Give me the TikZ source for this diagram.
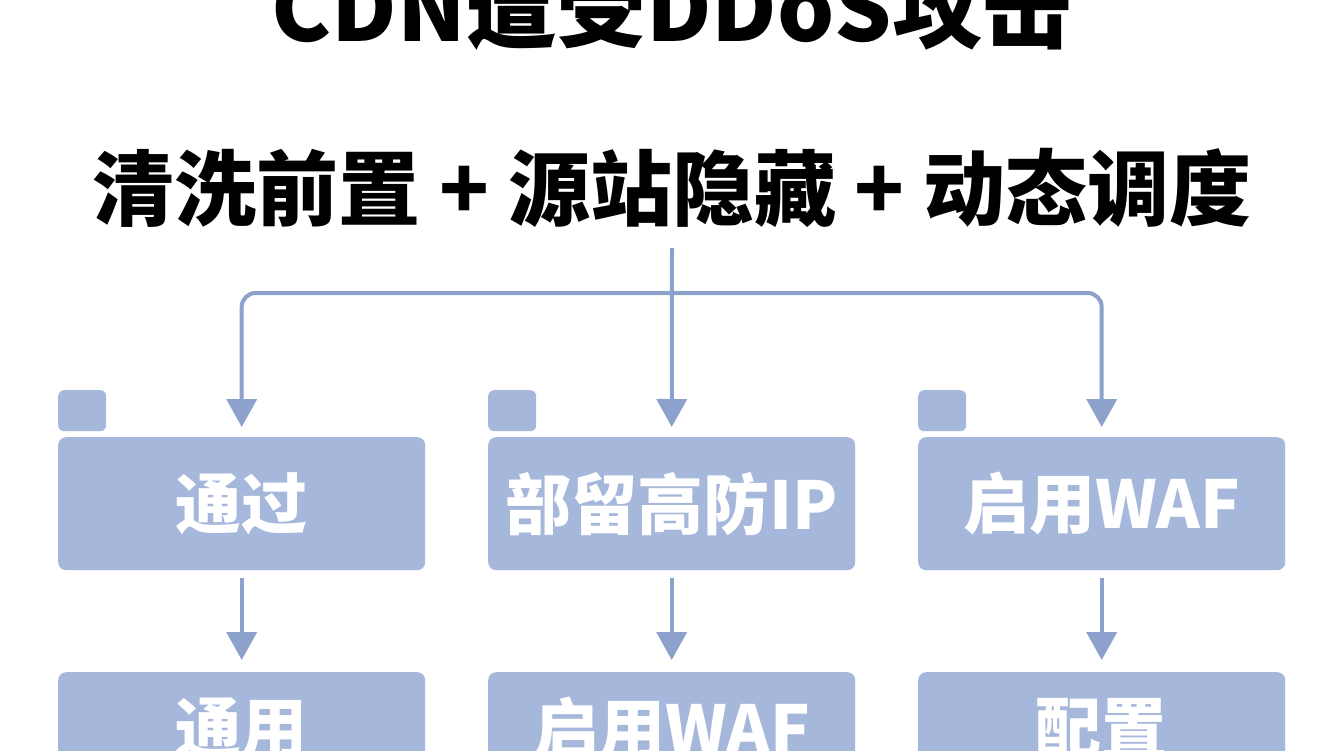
\documentclass[tikz,border=0pt]{standalone}
\usepackage{fontspec}
\setmainfont{Noto Sans CJK SC}
\usetikzlibrary{arrows.meta}
\definecolor{linec}{HTML}{8CA1CB}
\definecolor{boxc}{HTML}{A5B7DB}
\begin{document}
\begin{tikzpicture}[x=1pt,y=-1pt,
  conn/.style={draw=linec, line width=4pt, -{Triangle[width=30pt,length=28pt]}},
  card/.style={fill=boxc, rounded corners=8pt, minimum width=367pt, minimum height=133pt, inner sep=0pt, anchor=north west, text=white, font=\bfseries\fontsize{66}{66}\selectfont},
  lowcard/.style={card, minimum height=113pt},
  tabc/.style={fill=boxc, rounded corners=6pt, minimum width=48pt, minimum height=41pt, inner sep=0pt, anchor=north west},
  ttl/.style={anchor=base, font=\bfseries\fontsize{90}{90}\selectfont},
  subttl/.style={anchor=base, font=\bfseries\fontsize{82}{82}\selectfont}
]
\useasboundingbox (0,0) rectangle (1344,750);
\clip (0,0) rectangle (1344,750);
\fill[white] (0,0) rectangle (1344,750);

\node[ttl] (title) at (672,41) {CDN遭受DDoS攻击};
\node[subttl] (sub) at (672,219) {清洗前置 + 源站隐藏 + 动态调度};

\node[tabc] (t1) at (58,390) {};
\node[tabc] (t2) at (488,390) {};
\node[tabc] (t3) at (918,390) {};

\node[card] (b1) at (58,437) {通过};
\node[card] (b2) at (488,437) {部留高防IP};
\node[card] (b3) at (918,437) {启用WAF};

\node[lowcard] (c1) at (58,672) {通用};
\node[lowcard] (c2) at (488,672) {启用WAF};
\node[lowcard] (c3) at (918,672) {配置};

\coordinate (s) at (672,248);
\coordinate (j) at (672,293);

\draw[conn, shorten >=10pt] (s) -- (b2.north);
\draw[conn, rounded corners=14pt, shorten >=10pt] (j) -| (b1.north);
\draw[conn, rounded corners=14pt, shorten >=10pt] (j) -| (b3.north);

\draw[conn, shorten <=8pt, shorten >=12pt] (b1.south) -- (c1.north);
\draw[conn, shorten <=8pt, shorten >=12pt] (b2.south) -- (c2.north);
\draw[conn, shorten <=8pt, shorten >=12pt] (b3.south) -- (c3.north);
\end{tikzpicture}
\end{document}
